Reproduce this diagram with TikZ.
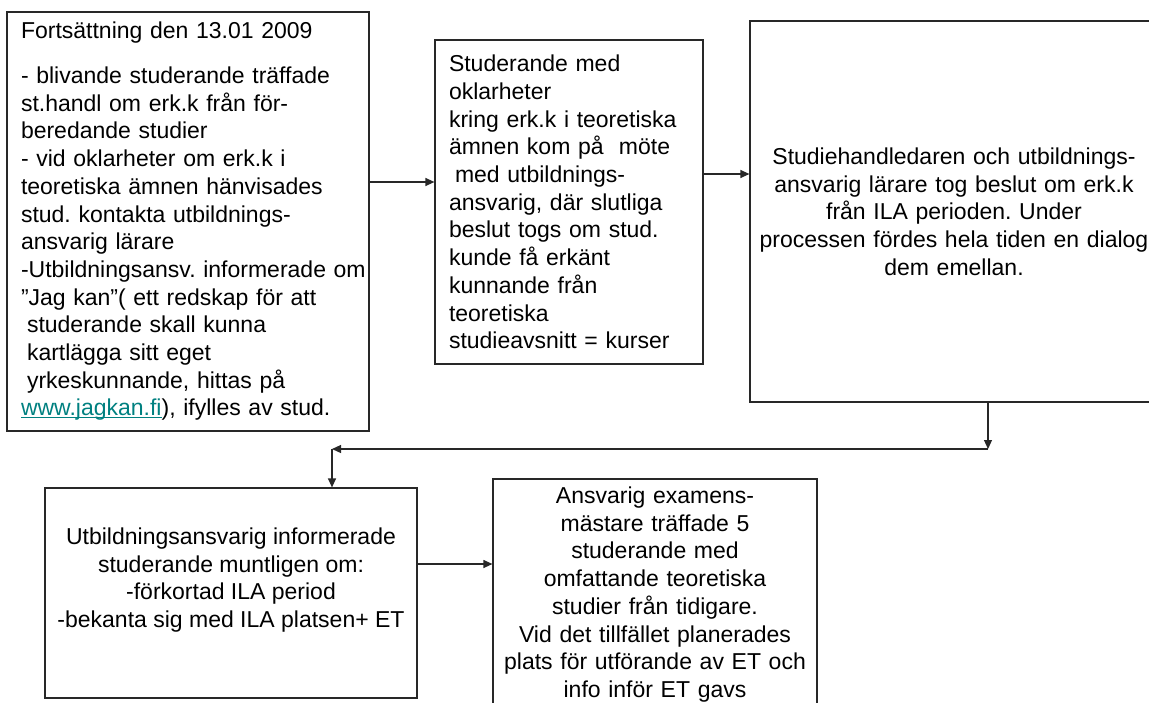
\documentclass[tikz,border=0pt]{standalone}
\usepackage{fontspec}
\setmainfont{Liberation Sans}
\usepackage{xcolor}
\usetikzlibrary{arrows.meta}
\definecolor{linkteal}{RGB}{0,128,128}
\definecolor{boxline}{RGB}{40,40,40}
\newcommand{\weblink}[1]{\textcolor{linkteal}{\setbox0\hbox{#1}\rlap{\rule[-2.5pt]{\wd0}{1.2pt}}\box0}}
\frenchspacing

\begin{document}
\begin{tikzpicture}[x=1pt,y=-1pt,
    boxtext/.style={font=\fontsize{23}{27.7}\selectfont},
    box/.style={boxtext, draw=boxline, line width=1.2pt, inner xsep=14pt, inner ysep=0pt},
    flow/.style={draw=boxline, line width=1.2pt, -{Triangle[length=9pt,width=8pt]}}]
    % Page
    \useasboundingbox (0,0) rectangle (1149,702);
    \clip (0,0) rectangle (1149,702);

    % First row
    \node[box, minimum width=362, minimum height=419, text width=334, align=left] (start) at (188,221.5) {%
        Fortsättning den 13.01 2009\\[17pt]
        - blivande studerande träffade\\
        st.handl om erk.k från för-\\
        beredande studier\\
        - vid oklarheter om erk.k i\\
        teoretiska ämnen hänvisades\\
        stud. kontakta utbildnings-\\
        ansvarig lärare\\
        \mbox{-Utbildningsansv. informerade om}\\
        ”Jag kan”( ett redskap för att\\
        \hspace*{6pt}studerande skall kunna\\
        \hspace*{6pt}kartlägga sitt eget\\
        \hspace*{6pt}yrkeskunnande, hittas på\\
        \weblink{www.jagkan.fi}), ifylles av stud.};

    \node[box, minimum width=268, minimum height=324, text width=240, align=left] (meeting) at (569,202) {%
        Studerande med\\
        oklarheter\\
        kring erk.k i teoretiska\\
        ämnen kom på \ möte\\
        \hspace*{6pt}med utbildnings-\\
        ansvarig, där slutliga\\
        beslut togs om stud.\\
        kunde få erkänt\\
        kunnande från\\
        teoretiska\\
        studieavsnitt = kurser};

    \node[box, inner xsep=4pt, minimum width=408, minimum height=381, text width=400, align=center] (decision) at (954,211.5) {%
        Studiehandledaren och utbildnings-\\
        ansvarig lärare tog beslut om erk.k\\
        från ILA perioden. Under\\
        processen fördes hela tiden en dialog\\
        dem emellan.};

    % Second row
    \node[box, minimum width=372, minimum height=210] (inform) at (231,593) {};
    \node[boxtext, align=center] (informtext) at (231,580) {%
        Utbildningsansvarig informerade\\
        studerande muntligen om:\\
        -förkortad ILA period\\
        -bekanta sig med ILA platsen+ ET};

    \node[box, inner xsep=4pt, minimum width=324, minimum height=231, text width=316, align=center] (exam) at (655,594.5) {%
        Ansvarig examens-\\
        mästare träffade 5\\
        studerande med\\
        omfattande teoretiska\\
        studier från tidigare.\\
        Vid det tillfället planerades\\
        plats för utförande av ET och\\
        info inför ET gavs};

    % Connectors
    \coordinate (turn1) at (988,449);
    \coordinate (turn2) at (332,449);
    \draw[flow] (start.east |- 0,182) -- (meeting.west |- 0,182);
    \draw[flow] (meeting.east |- 0,174) -- (decision.west |- 0,174);
    \draw[flow] (decision.south -| turn1) -- (turn1);
    \draw[flow] (turn1) -- (turn2);
    \draw[flow] (turn2) -- (inform.north -| turn2);
    \draw[flow] (inform.east |- 0,564) -- (exam.west |- 0,564);
\end{tikzpicture}
\end{document}
